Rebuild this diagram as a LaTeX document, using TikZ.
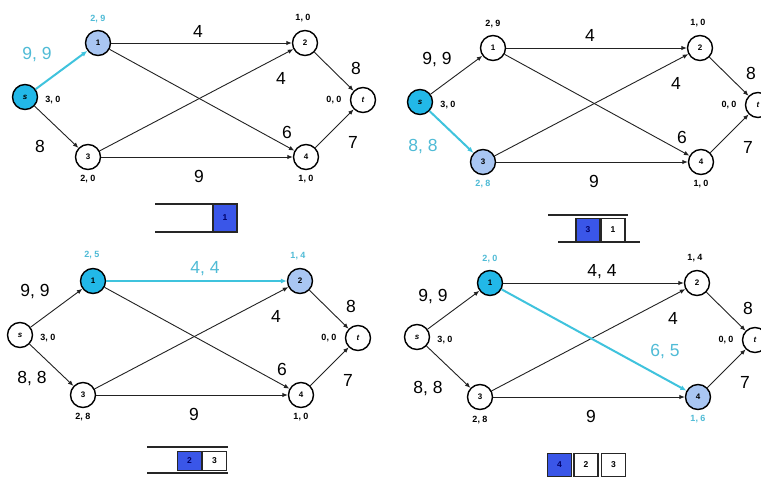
\documentclass[tikz,border=0pt]{standalone}
\usepackage{fontspec}
\setmainfont{Liberation Sans}
\usetikzlibrary{arrows.meta}
\definecolor{cyanfill}{HTML}{22B8E8}
\definecolor{lightfill}{HTML}{A9C6F2}
\definecolor{hiline}{HTML}{3FC3DD}
\definecolor{hitext}{HTML}{4FBBD6}
\definecolor{edgegray}{HTML}{222222}
\definecolor{qblue}{HTML}{3A56E8}
\tikzset{
  vert/.style={circle, draw=black, line width=1.4pt, fill=white, minimum size=25pt, inner sep=0pt, font=\fontsize{8}{8}\selectfont\bfseries},
  hot/.style={fill=cyanfill},
  visit/.style={fill=lightfill},
  edge/.style={draw=edgegray, line width=0.9pt, -{Latex[length=5.5pt,width=4.5pt]}},
  hedge/.style={draw=hiline, line width=2pt, -{Latex[length=6pt,width=5pt]}},
  wlab/.style={font=\fontsize{17.5}{17.5}\selectfont, inner sep=0pt},
  slab/.style={font=\fontsize{9}{9}\selectfont\bfseries, inner sep=0pt},
  cy/.style={text=hitext},
  qline/.style={draw=black!85, line width=1.4pt},
  qbox/.style={draw=black!85, line width=1.2pt, minimum width=24pt, minimum height=23pt, inner sep=0pt, font=\fontsize{8.5}{8.5}\selectfont\bfseries},
  qhot/.style={fill=qblue, text=blue!40!black},
  ns/.style={}, n1/.style={}, n2/.style={}, n3/.style={}, n4/.style={}, nt/.style={},
  es1/.style={edge}, es3/.style={edge}, e12/.style={edge}, e14/.style={edge},
  e32/.style={edge}, e34/.style={edge}, e2t/.style={edge}, e4t/.style={edge}
}
\newcommand\graphbody{%
  \node[vert,ns] (s) at (0,0) {\textit{s}};
  \node[vert,n1] (v1) at (73,-54) {1};
  \node[vert,n2] (v2) at (280,-54) {2};
  \node[vert,nt] (t) at (338,3) {\textit{t}};
  \node[vert,n3] (v3) at (63,60) {3};
  \node[vert,n4] (v4) at (281,60) {4};
  \draw[e32] (v3) -- (v2);
  \draw[e34] (v3) -- (v4);
  \draw[e12] (v1) -- (v2);
  \draw[e14] (v1) -- (v4);
  \draw[e2t] (v2) -- (t);
  \draw[e4t] (v4) -- (t);
  \draw[es1] (s) -- (v1);
  \draw[es3] (s) -- (v3);
  \node[slab] (ls) at (28,3) {3, 0};
  \node[slab] (lt) at (309,3) {0, 0};
  \node[wlab] (w32) at (256,-19) {4};
  \node[wlab] (w2t) at (331,-29) {8};
  \node[wlab] (w4t) at (328,45) {7};
  \node[wlab] (w34) at (174,79) {9};
}
\begin{document}
\begin{tikzpicture}[x=1pt,y=-1pt]
\useasboundingbox (0,0) rectangle (761,477);
\fill[white] (0,0) rectangle (761,477);

% ---------- panel 1 ----------
\begin{scope}[shift={(25,97)}, name prefix=a-, ns/.style={hot}, n1/.style={visit}, es1/.style={hedge}]
  \graphbody
  \node[slab,cy] (l1) at (73,-78) {2, 9};
  \node[slab] (l2) at (278,-79) {1, 0};
  \node[slab] (l3) at (63,82) {2, 0};
  \node[slab] (l4) at (281,82) {1, 0};
  \node[wlab] (w12) at (173,-66) {4};
  \node[wlab] (w14) at (262,35) {6};
  \node[wlab,cy] (ws1) at (12,-42) {9, 9};
  \node[wlab] (ws3) at (15,49) {8};
\end{scope}
\draw[qline] (155,204) -- (237,204);
\draw[qline] (155,232) -- (237,232);
\node[qbox,qhot,minimum height=28pt] (qa1) at (225,218) {1};

% ---------- panel 2 ----------
\begin{scope}[shift={(420,102)}, name prefix=b-, ns/.style={hot}, n3/.style={visit}, es3/.style={hedge}]
  \graphbody
  \node[slab] (l1) at (73,-78) {2, 9};
  \node[slab] (l2) at (278,-79) {1, 0};
  \node[slab,cy] (l3) at (63,82) {2, 8};
  \node[slab] (l4) at (281,82) {1, 0};
  \node[wlab] (w12) at (170,-67) {4};
  \node[wlab] (w14) at (262,35) {6};
  \node[wlab] (ws1) at (17,-42) {9, 9};
  \node[wlab,cy] (ws3) at (3,45) {8, 8};
\end{scope}
\draw[qline] (548,215) -- (628,215);
\draw[qline] (558,242) -- (640,242);
\node[qbox,qhot] (qb1) at (588,230) {3};
\node[qbox] (qb2) at (613,230) {1};

% ---------- panel 3 ----------
\begin{scope}[shift={(20,335)}, name prefix=c-, n1/.style={hot}, n2/.style={visit}, e12/.style={hedge}]
  \graphbody
  \node[slab,cy] (l1) at (72,-80) {2, 5};
  \node[slab,cy] (l2) at (278,-79) {1, 4};
  \node[slab] (l3) at (63,82) {2, 8};
  \node[slab] (l4) at (281,82) {1, 0};
  \node[wlab,cy] (w12) at (185,-66) {4, 4};
  \node[wlab] (w14) at (262,34) {6};
  \node[wlab] (ws1) at (15,-43) {9, 9};
  \node[wlab] (ws3) at (12,44) {8, 8};
\end{scope}
\draw[qline] (147,447) -- (228,447);
\draw[qline] (147,473) -- (228,473);
\node[qbox,qhot,minimum height=19pt] (qc1) at (189.5,461) {2};
\node[qbox,minimum height=19pt] (qc2) at (214.5,461) {3};

% ---------- panel 4 ----------
\begin{scope}[shift={(417,337)}, name prefix=d-, n1/.style={hot}, n4/.style={visit}, e14/.style={hedge}]
  \graphbody
  \node[slab,cy] (l1) at (73,-78) {2, 0};
  \node[slab] (l2) at (278,-79) {1, 4};
  \node[slab] (l3) at (63,83) {2, 8};
  \node[slab,cy] (l4) at (281,82) {1, 6};
  \node[wlab] (w12) at (185,-65) {4, 4};
  \node[wlab,cy] (w14) at (248,15) {6, 5};
  \node[wlab] (ws1) at (16,-40) {9, 9};
  \node[wlab] (ws3) at (11,52) {8, 8};
\end{scope}
\node[qbox,qhot] (qd1) at (559.5,465) {4};
\node[qbox] (qd2) at (586,465) {2};
\node[qbox] (qd3) at (613.5,465) {3};
\end{tikzpicture}
\end{document}
